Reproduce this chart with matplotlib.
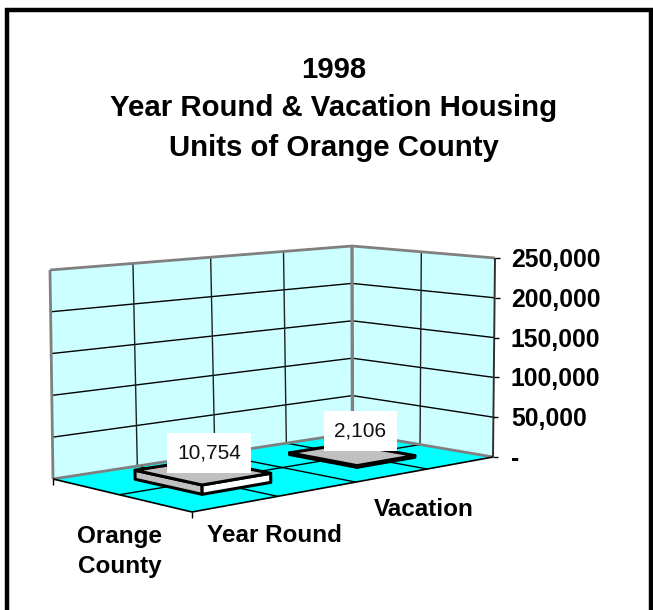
import numpy as np
from matplotlib import pyplot as plt
from matplotlib.patches import Polygon, Rectangle

plt.rcParams['font.family'] = ['Liberation Sans', 'DejaVu Sans']

# datos
categories = ['Orange\nCounty']
series = ['Year Round', 'Vacation']
values = [10754, 2106]
value_labels = ['10,754', '2,106']
y_ticks = [0, 50000, 100000, 150000, 200000, 250000]
y_tick_labels = ['-', '50,000', '100,000', '150,000', '200,000', '250,000']
title = '1998\nYear Round & Vacation Housing\nUnits of Orange County'

y_max = y_ticks[-1]

# esquinas de la caja 3D en pixeles: frente, derecha, izquierda, fondo
floor_box = [(192, 512), (493, 457), (53, 479), (352.5, 433)]
top_box = [(192, 285.5), (495, 258), (50, 270), (352, 246)]


def homography(pts):
    # cuadrado unidad (s, c) -> plano de la imagen
    src = [(0, 0), (1, 0), (0, 1), (1, 1)]
    a = []
    b = []
    for (s, c), (x, y) in zip(src, pts):
        a.append([s, c, 1, 0, 0, 0, -s * x, -c * x])
        a.append([0, 0, 0, s, c, 1, -s * y, -c * y])
        b += [x, y]
    return np.append(np.linalg.solve(np.array(a), np.array(b)), 1).reshape(3, 3)


H_floor = homography(floor_box)
H_top = homography(top_box)


def project(s, c, v=0):
    p = np.array([s, c, 1.0])
    f = H_floor @ p
    t = H_top @ p
    return tuple(f[:2] / f[2] + (t[:2] / t[2] - f[:2] / f[2]) * v / y_max)


fig = plt.figure(figsize=(6.53, 6.10), dpi=100)
ax = fig.add_axes([0, 0, 1, 1])
ax.set_xlim(0, 653)
ax.set_ylim(610, 0)
ax.axis('off')

# marco exterior, el borde inferior queda fuera de la imagen
ax.add_patch(Rectangle((7, 10), 644, 610, fc='white', ec='black', lw=3.2))

# paredes y suelo
left_wall = [project(0, 1), project(1, 1), project(1, 1, y_max), project(0, 1, y_max)]
right_wall = [project(1, 1), project(1, 0), project(1, 0, y_max), project(1, 1, y_max)]
floor = [project(0, 0), project(1, 0), project(1, 1), project(0, 1)]
ax.add_patch(Polygon(left_wall, fc='#CCFFFF', ec='none'))
ax.add_patch(Polygon(right_wall, fc='#CCFFFF', ec='none'))
ax.add_patch(Polygon(floor, fc='#00FFFF', ec='none'))


def line(p, q, color='black', lw=1.0):
    ax.plot([p[0], q[0]], [p[1], q[1]], color=color, lw=lw, solid_capstyle='butt')


# lineas horizontales de la cuadricula
for t in y_ticks[1:-1]:
    line(project(0, 1, t), project(1, 1, t))
    line(project(1, 1, t), project(1, 0, t))

# lineas verticales y del suelo
n_s = len(series) * 2
n_c = len(categories) * 2
for i in range(1, n_s):
    s = i / n_s
    line(project(s, 1), project(s, 1, y_max), color='#202020')
    line(project(s, 0), project(s, 1))
for j in range(1, n_c):
    c = j / n_c
    line(project(1, c), project(1, c, y_max), color='#202020')
    line(project(0, c), project(1, c))

# bordes grises de las paredes
edge = '#808080'
line(project(0, 1), project(0, 1, y_max), edge, 2.0)
line(project(0, 1, y_max), project(1, 1, y_max), edge, 2.0)
line(project(1, 1, y_max), project(1, 0, y_max), edge, 2.0)
line(project(1, 1), project(1, 1, y_max), edge, 2.4)
line(project(0, 1), project(1, 1), edge, 2.0)
line(project(1, 1), project(1, 0), edge, 2.0)

# ejes
line(project(0, 1), project(0, 0), 'black', 1.2)
line(project(0, 0), project(1, 0), 'black', 1.2)
line(project(1, 0), project(1, 0, y_max), '#303030', 1.4)

for t, lab in zip(y_ticks, y_tick_labels):
    x, y = project(1, 0, t)
    line((x, y), (x + 5, y), 'black', 1.0)
    ax.text(511, y + 2, lab, fontsize=17.8, fontweight='bold', ha='left', va='center')
for s, c in [(0, 0), (0, 1)]:
    x, y = project(s, c)
    line((x, y), (x, y + 6), 'black', 1.0)

# barras
half_s = 0.105
half_c = 0.24
centers_s = [0.245, 0.743]
label_pos = [(209, 453), (360.5, 431)]
for i, v in enumerate(values):
    s0 = centers_s[i] - half_s
    s1 = centers_s[i] + half_s
    c0 = 0.5 - half_c
    c1 = 0.5 + half_c
    style = dict(ec='black', lw=2.2, joinstyle='round', zorder=3)
    ax.add_patch(Polygon([project(s0, c1), project(s0, c0), project(s0, c0, v), project(s0, c1, v)],
                         fc='#C0C0C0', **style))
    ax.add_patch(Polygon([project(s0, c0), project(s1, c0), project(s1, c0, v), project(s0, c0, v)],
                         fc='white', **style))
    ax.add_patch(Polygon([project(s0, c0, v), project(s1, c0, v), project(s1, c1, v), project(s0, c1, v)],
                         fc='#C0C0C0', **style))
    ax.text(label_pos[i][0], label_pos[i][1], value_labels[i], fontsize=15, ha='center', va='center',
            color='#111111', zorder=4, bbox=dict(fc='white', ec='none', pad=7.5))

# etiquetas de los ejes
ax.text(120, 551.5, categories[0], fontsize=17.5, fontweight='bold', ha='center', va='center', linespacing=1.34)
ax.text(274, 536, series[0], fontsize=17.5, fontweight='bold', ha='center', va='center')
ax.text(423.5, 510, series[1], fontsize=17.5, fontweight='bold', ha='center', va='center')

# titulo
ax.text(334, 108.5, title, fontsize=21.2, fontweight='bold', ha='center', va='center', linespacing=1.5)

plt.savefig('out.png', dpi=100)
